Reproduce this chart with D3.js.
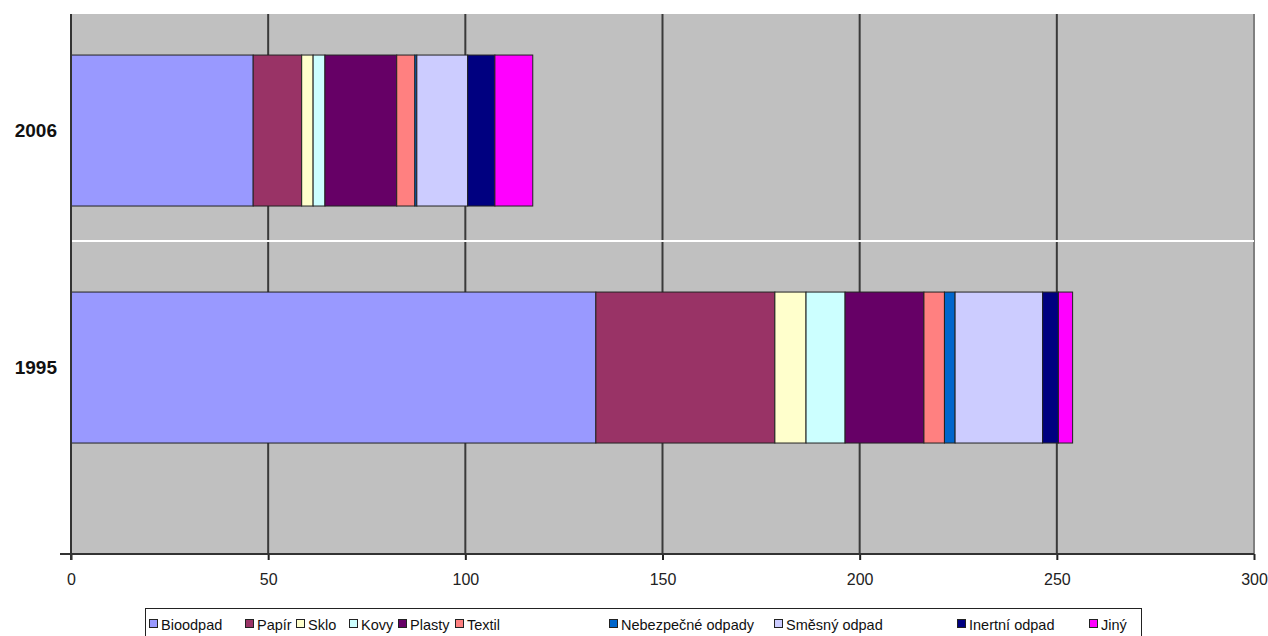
<!DOCTYPE html>
<html>
<head>
<meta charset="utf-8">
<script src="https://cdn.jsdelivr.net/npm/d3@7"></script>
<style>
body { margin: 0; background: #fff; }
svg { display: block; }
</style>
</head>
<body>
<div id="chart"></div>
<script>
var w = 1268,
	h = 636;

// Data
var years = ["2006", "1995"];
var categories = ["Bioodpad", "Papír", "Sklo", "Kovy", "Plasty", "Textil",
	"Nebezpečné odpady", "Směsný odpad", "Inertní odpad", "Jiný"];
var values2006 = [46.2, 12.3, 2.9, 3.0, 18.2, 4.6, 0.5, 12.9, 6.9, 9.6];
var values1995 = [133.1, 45.4, 7.9, 9.9, 20.0, 5.2, 2.7, 22.2, 4.0, 3.6];
var xTicks = [0, 50, 100, 150, 200, 250, 300];

var colors = ["#9999FF", "#993366", "#FFFFCC", "#CCFFFF", "#660066", "#FF8080",
	"#0066CC", "#CCCCFF", "#000080", "#FF00FF"];

// rows for d3.stack
var rows = years.map(function(yr, i) {
	var src = i == 0 ? values2006 : values1995;
	var r = { year: yr };
	categories.forEach(function(c, j) { r[c] = src[j]; });
	return r;
});

var pLeft = 71, pRight = 1254, pTop = 14, pBottom = 554;

var x = d3.scaleLinear().domain([0, 300]).range([pLeft, pRight]);
var y = d3.scaleBand().domain(years).range([pTop, pBottom])
	.paddingInner(0.363).paddingOuter(0.3207).align(0.27);

var color = d3.scaleOrdinal().domain(categories).range(colors);

var svg = d3.select("#chart").append("svg")
	.attr("width", w)
	.attr("height", h);

// plot background
svg.append("rect")
	.attr("x", pLeft).attr("y", pTop)
	.attr("width", pRight - pLeft).attr("height", pBottom - pTop)
	.attr("fill", "#C0C0C0");

// vertical gridlines
svg.append("g")
	.selectAll("line")
	.data(xTicks.slice(1))
	.enter().append("line")
	.attr("x1", function(d) { return x(d); })
	.attr("x2", function(d) { return x(d); })
	.attr("y1", pTop).attr("y2", pBottom)
	.attr("stroke", function(d) { return d == 300 ? "#808080" : "#3a3a3a"; })
	.attr("stroke-width", 2);

// white horizontal line between the categories
svg.append("line")
	.attr("x1", pLeft).attr("x2", pRight)
	.attr("y1", 241).attr("y2", 241)
	.attr("stroke", "#fff")
	.attr("stroke-width", 2);

// stacked bars
var stack = d3.stack().keys(categories);
var series = stack(rows);

svg.append("g")
	.selectAll("g")
	.data(series)
	.enter().append("g")
	.attr("fill", function(d) { return color(d.key); })
	.selectAll("rect")
	.data(function(d) { return d; })
	.enter().append("rect")
	.attr("x", function(d) { return x(d[0]); })
	.attr("y", function(d) { return y(d.data.year); })
	.attr("width", function(d) { return x(d[1]) - x(d[0]); })
	.attr("height", y.bandwidth())
	.attr("stroke", "#222")
	.attr("stroke-width", 1);

// x axis
var xAxis = svg.append("g")
	.attr("transform", "translate(0," + pBottom + ")")
	.call(d3.axisBottom(x).tickValues(xTicks).tickSize(6).tickPadding(14));
xAxis.select(".domain").remove();
xAxis.selectAll(".tick line").attr("stroke", "#222").attr("stroke-width", 2);
xAxis.selectAll(".tick text")
	.style("font-family", "Liberation Sans, Arial, sans-serif")
	.style("font-size", "16px")
	.attr("fill", "#222");

svg.append("line")
	.attr("x1", 60).attr("x2", pRight)
	.attr("y1", pBottom).attr("y2", pBottom)
	.attr("stroke", "#333").attr("stroke-width", 2);

// y axis
var yAxis = svg.append("g")
	.attr("transform", "translate(" + pLeft + ",0)")
	.call(d3.axisLeft(y).tickSize(0).tickPadding(14));
yAxis.select(".domain").remove();
yAxis.selectAll(".tick text")
	.style("font-family", "Liberation Sans, Arial, sans-serif")
	.style("font-size", "19px")
	.style("font-weight", "bold")
	.attr("fill", "#111");

svg.append("line")
	.attr("x1", pLeft).attr("x2", pLeft)
	.attr("y1", pTop).attr("y2", pBottom + 6)
	.attr("stroke", "#333").attr("stroke-width", 2);

// legend
var legendX = [149, 245, 296, 349, 398, 455, 609, 774, 957, 1089];

svg.append("rect")
	.attr("x", 145.5).attr("y", 608.5)
	.attr("width", 996).attr("height", 40)
	.attr("fill", "#fff")
	.attr("stroke", "#222");

var legend = svg.append("g")
	.attr("class", "legend");

var item = legend.selectAll("g")
	.data(categories)
	.enter().append("g")
	.attr("transform", function(d, i) { return "translate(" + legendX[i] + ",0)"; });

item.append("rect")
	.attr("x", 0.5).attr("y", 619.5)
	.attr("width", 8).attr("height", 8)
	.attr("fill", function(d) { return color(d); })
	.attr("stroke", "#222");

item.append("text")
	.attr("x", 12)
	.attr("y", 630)
	.style("font-family", "Liberation Sans, Arial, sans-serif")
	.style("font-size", "14.5px")
	.attr("fill", "#111")
	.text(function(d) { return d; });
</script>
</body>
</html>
